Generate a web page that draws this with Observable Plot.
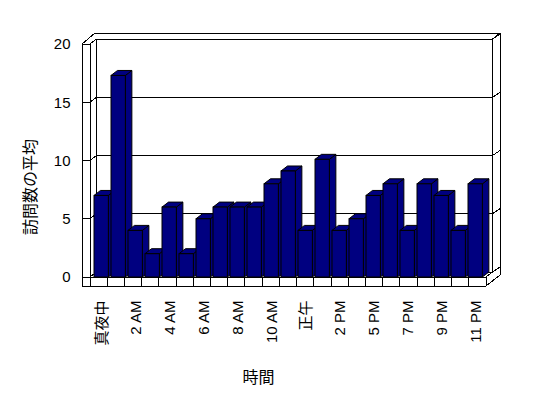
<!DOCTYPE html>
<html>
<head>
<meta charset="utf-8">
<script src="https://cdn.jsdelivr.net/npm/d3@7"></script>
<script src="https://cdn.jsdelivr.net/npm/@observablehq/plot@0.6"></script>
<style>
  html, body { margin: 0; padding: 0; background: #ffffff; }
  #chart { width: 548px; height: 398px; }
</style>
</head>
<body>
<div id="chart"></div>
<script>
// ---- data ----
const hours = ["真夜中","1 AM","2 AM","3 AM","4 AM","5 AM","6 AM","7 AM","8 AM","9 AM","10 AM","11 AM",
               "正午","1 PM","2 PM","3 PM","5 PM","6 PM","7 PM","8 PM","9 PM","10 PM","11 PM"];
const visits = [7, 17.3, 4, 2, 6, 2, 5, 6, 6, 6, 8, 9.1, 4, 10.1, 4, 5, 7, 8, 4, 8, 7, 4, 8];
const xTickLabels = ["真夜中","2 AM","4 AM","6 AM","8 AM","10 AM","正午","2 PM","5 PM","7 PM","9 PM","11 PM"];
const yTicks = [0, 5, 10, 15, 20];
const xTitle = "時間";
const yTitle = "訪問数の平均";

const rows = hours.map((h, i) => ({hour: h, visits: visits[i]}));

// ---- layout ----
const X_LEFT = 90, X_RIGHT = 486;
const DX = 6.5, DY = -5;
const FILL = "#000080";

function line(g, x1, y1, x2, y2) {
  g.append("line").attr("x1", x1).attr("y1", y1).attr("x2", x2).attr("y2", y2);
}

function frameRender(index, scales, values, dims) {
  const g = d3.create("svg:g")
    .attr("stroke", "black").attr("stroke-width", 1).attr("fill", "none")
    .attr("shape-rendering", "crispEdges");
  const L = dims.marginLeft, R = dims.width - dims.marginRight;
  const T = dims.marginTop, B = dims.height - dims.marginBottom;
  const y0 = scales.y(0), yTop = scales.y(20);
  const n = hours.length, step = (X_RIGHT - X_LEFT) / n;
  // left wall
  line(g, L, yTop, L, B);
  line(g, X_LEFT, yTop, X_LEFT, y0);
  line(g, X_LEFT + DX, yTop + DY, X_LEFT + DX, y0 + DY);
  line(g, L, yTop, X_LEFT, yTop);
  line(g, L, yTop, L + 13, T);
  line(g, X_LEFT, yTop, X_LEFT + DX, yTop + DY);
  // top of back wall
  line(g, L + 13, T, R, T);
  line(g, X_RIGHT + DX, yTop + DY, R, T);
  // right edge
  line(g, X_RIGHT + DX, yTop + DY, X_RIGHT + DX, y0 + DY);
  line(g, R, T, R, B - 11);
  // gridlines / ticks
  for (const i of index) {
    const yv = values.y[i];
    line(g, L, yv, X_LEFT, yv);
    line(g, X_LEFT, yv, X_LEFT + DX, yv + DY);
    line(g, X_LEFT + DX, yv + DY, X_RIGHT + DX, yv + DY);
    line(g, X_RIGHT + DX, yv + DY, R, yv + DY - 5);
  }
  // floor
  line(g, L, B, X_RIGHT, B);
  line(g, X_LEFT, y0, X_RIGHT, y0);
  line(g, X_RIGHT, y0, X_RIGHT + DX, y0 + DY);
  line(g, X_RIGHT, B, R, B - 11);
  for (let k = 0; k <= n; k++) {
    const x = X_LEFT + k * step;
    line(g, x, y0, x, B);
  }
  return g.node();
}

function barsRender(index, scales, values, dims) {
  const g = d3.create("svg:g")
    .attr("stroke", "black").attr("stroke-width", 1).attr("fill", FILL)
    .attr("stroke-linejoin", "miter");
  const bw = scales.x.bandwidth ? scales.x.bandwidth() : (X_RIGHT - X_LEFT) / hours.length;
  for (const i of index) {
    const x0 = values.x[i] + 1, x1 = x0 + bw * 0.845;
    const yt = Math.min(values.y1[i], values.y2[i]);
    const yb = Math.max(values.y1[i], values.y2[i]);
    g.append("path").attr("d",
      `M${x1},${yt}L${x1 + DX},${yt + DY}L${x1 + DX},${yb + DY}L${x1},${yb}Z`);
    g.append("path").attr("d",
      `M${x0},${yt}L${x1},${yt}L${x1 + DX},${yt + DY}L${x0 + DX},${yt + DY}Z`);
    g.append("rect").attr("x", x0).attr("y", yt).attr("width", x1 - x0).attr("height", yb - yt);
  }
  return g.node();
}

const chart = Plot.plot({
  width: 548,
  height: 398,
  marginLeft: 82,
  marginRight: 48,
  marginTop: 33,
  marginBottom: 112,
  style: {
    fontFamily: "'Liberation Sans', Arial, 'Noto Sans CJK JP', sans-serif",
    fontSize: "15px",
    background: "#ffffff",
    color: "#000000",
    overflow: "visible"
  },
  x: {domain: hours, range: [X_LEFT, X_RIGHT], padding: 0, axis: null},
  y: {domain: [0, 20], range: [277, 44], axis: null},
  marks: [
    Plot.ruleY(yTicks, {y: d => d, render: frameRender}),
    Plot.barY(rows, {x: "hour", y1: 0, y2: "visits", render: barsRender}),
    Plot.axisY(yTicks, {anchor: "left", tickSize: 0, tickPadding: 12, label: null, fontSize: 15}),
    Plot.axisX(xTickLabels, {anchor: "bottom", tickSize: 0, tickPadding: 14, tickRotate: -90, label: null, fontSize: 15}),
    Plot.text([xTitle], {frameAnchor: "bottom", textAnchor: "middle", lineAnchor: "middle", dx: -33, dy: 91, fontSize: 16}),
    Plot.text([yTitle], {frameAnchor: "left", textAnchor: "middle", lineAnchor: "middle", rotate: -90, dx: -52, dy: 27, fontSize: 16})
  ]
});

document.getElementById("chart").appendChild(chart);
</script>
</body>
</html>
